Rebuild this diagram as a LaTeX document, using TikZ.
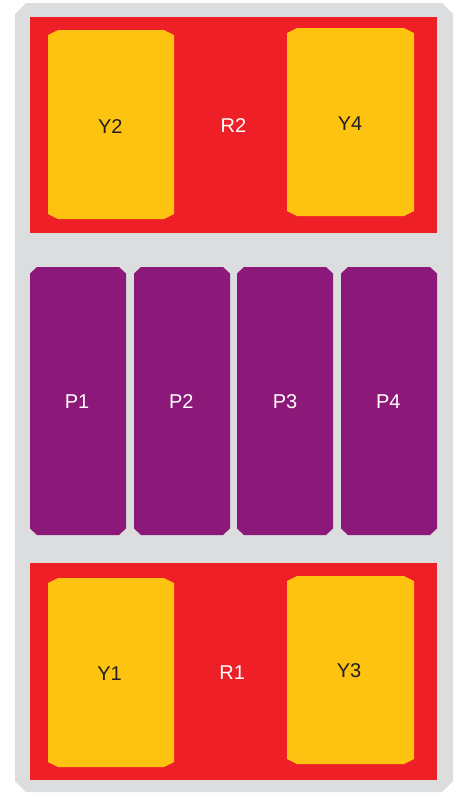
\documentclass[tikz,border=0pt]{standalone}
\usepackage{fontspec}
\setmainfont{Liberation Sans}
\definecolor{bdgray}{HTML}{DCDDDE}
\definecolor{bdred}{HTML}{EE1F26}
\definecolor{bdyel}{HTML}{FEC210}
\definecolor{bdpur}{HTML}{8C1879}
\definecolor{bdink}{HTML}{231F20}
\tikzset{
  lbl/.style={inner sep=0pt,font=\fontsize{20}{22}\selectfont,text=white},
  ylbl/.style={lbl,text=bdink},
}
% chamfered box: colour, x1, y1, x2, y2, chamfer x, chamfer y
\newcommand{\chamfbox}[7]{%
  \fill[#1] (#2+#6,#3) -- (#4-#6,#3) -- (#4,#3+#7) -- (#4,#5-#7)
    -- (#4-#6,#5) -- (#2+#6,#5) -- (#2,#5-#7) -- (#2,#3+#7) -- cycle;}

\begin{document}
\begin{tikzpicture}[x=1pt,y=-1pt]
  \useasboundingbox (0,0) rectangle (456,793);
  % board
  \chamfbox{bdgray}{15}{3}{453}{792}{11}{11}

  % ---------- top rail ----------
  \fill[bdred] (30,17) rectangle (437,233);
  \chamfbox{bdyel}{48}{30}{174}{219}{10}{5}
  \chamfbox{bdyel}{287}{28}{414}{216}{10}{5}
  \node[ylbl] (Y2) at (110.3,126.3) {Y2};
  \node[lbl] (R2) at (233.5,126) {R2};
  \node[ylbl] (Y4) at (350,123.7) {Y4};

  % ---------- middle row ----------
  \foreach \xa/\xb/\xl/\l in {30/126/77/P1,134/230/181.3/P2,237/333/285/P3,341/437/388.3/P4}{
    \chamfbox{bdpur}{\xa}{267}{\xb}{535}{7}{6.5}
    \node[lbl] (\l) at (\xl,401.7) {\l};}

  % ---------- bottom rail ----------
  \fill[bdred] (30,563) rectangle (437,780);
  \chamfbox{bdyel}{48}{578}{174}{767}{10}{5}
  \chamfbox{bdyel}{287}{576}{414}{764}{10}{5}
  \node[ylbl] (Y1) at (109.5,674) {Y1};
  \node[lbl] (R1) at (232.2,672.8) {R1};
  \node[ylbl] (Y3) at (349,670.7) {Y3};
\end{tikzpicture}
\end{document}
